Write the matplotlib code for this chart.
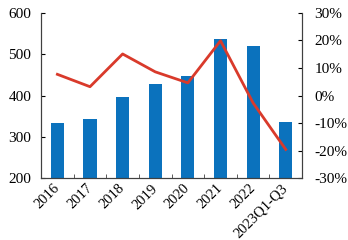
import matplotlib
matplotlib.use("Agg")
import matplotlib.pyplot as plt
from matplotlib.ticker import FuncFormatter
from matplotlib.transforms import ScaledTranslation

years = ["2016", "2017", "2018", "2019", "2020", "2021", "2022", "2023Q1-Q3"]
values = [333, 343, 396, 429, 448, 538, 519, 336]
growth = [7.7, 3.2, 15.1, 8.6, 4.6, 19.9, -2.7, -19.6]

plt.rcParams["font.family"] = ["Liberation Serif", "DejaVu Serif"]
plt.rcParams["font.size"] = 11

fig = plt.figure(figsize=(3.48, 2.4), dpi=100)
ax = fig.add_axes([0.118, 0.258, 0.75, 0.688])
x = range(len(years))
ax.bar(x, values, width=0.4, color="#0b72bd", zorder=2)
ax.set_ylim(200, 600)
ax.set_yticks([200, 300, 400, 500, 600])
ax.set_xlim(-0.5, len(years) - 0.5)
ax.set_xticks(list(x))
ax.set_xticklabels(years, rotation=45, ha="right", va="center",
                   rotation_mode="anchor", fontsize=10.5)
# nudge rotated labels a little to the right, like the original
shift = ScaledTranslation(0.035, 0, fig.dpi_scale_trans)
for lab in ax.get_xticklabels():
    lab.set_transform(lab.get_transform() + shift)
# small inward ticks between categories
ax.set_xticks([i + 0.5 for i in range(len(years) - 1)], minor=True)
ax.spines["top"].set_visible(False)
ax.tick_params(axis="y", direction="in", length=3, pad=7)
ax.tick_params(axis="x", which="major", length=0, pad=6)
ax.tick_params(axis="x", which="minor", direction="in", length=3, color="#404040")
for s in ax.spines.values():
    s.set_color("#404040")

ax2 = ax.twinx()
ax2.plot(x, growth, color="#d93a2b", linewidth=2, zorder=3)
ax2.set_ylim(-30, 30)
ax2.set_yticks([-30, -20, -10, 0, 10, 20, 30])
ax2.yaxis.set_major_formatter(FuncFormatter(lambda v, p: f"{v:.0f}%"))
ax2.spines["top"].set_visible(False)
ax2.tick_params(axis="y", direction="in", length=3, pad=9)
for s in ax2.spines.values():
    s.set_color("#404040")

fig.savefig("out.png", dpi=100)
